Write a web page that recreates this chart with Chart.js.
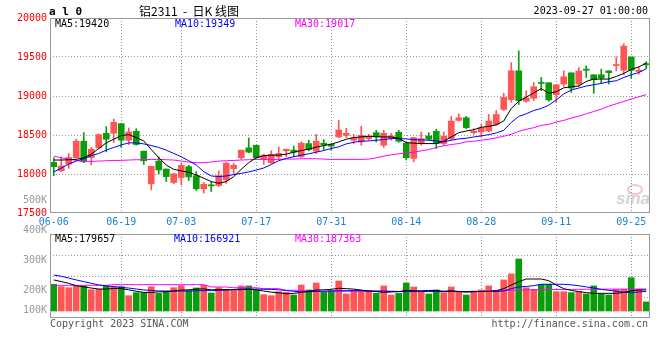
<!DOCTYPE html>
<html><head><meta charset="utf-8">
<script src="https://cdn.jsdelivr.net/npm/chart.js@4/dist/chart.umd.min.js"></script>
<style>
html,body{margin:0;padding:0;background:#fff;}
#wrap{position:relative;width:660px;height:360px;overflow:hidden;background:#fff;}
canvas{position:absolute;left:0;}
.t{position:absolute;white-space:pre;font-family:'DejaVu Sans Mono',monospace;font-size:10px;line-height:12px;}
</style></head><body>
<div id="wrap">
<div style="position:absolute;left:627px;top:184px;width:12px;height:7px;border:2px solid #f4c8c8;border-radius:50%;"></div>
<div class="t" style="left:616px;top:190px;font-family:'Liberation Sans',sans-serif;font-style:italic;font-weight:bold;font-size:17px;line-height:18px;color:#d4d4d4;">sina</div>
<canvas id="main" width="660" height="232" style="top:0"></canvas>
<canvas id="vol" width="660" height="100" style="top:228px"></canvas>
<div class="t" style="left:49px;top:6px;font-weight:bold;font-size:11px;color:#000;">a l 0</div>
<div class="t" style="left:139px;top:3px;font-family:'Noto Sans CJK SC',sans-serif;font-size:12px;line-height:15px;color:#000;">铝2311  -  日K 线图</div>
<div class="t" style="right:12px;top:5px;color:#000;">2023-09-27 01:00:00</div>
<div class="t" id="l1" style="left:55px;top:18px;color:#000;"></div>
<div class="t" id="l2" style="left:175px;top:18px;color:#0000ff;"></div>
<div class="t" id="l3" style="left:295px;top:18px;color:#ff00ff;"></div>
<div class="t" id="v1" style="left:55px;top:233px;color:#000;"></div>
<div class="t" id="v2" style="left:174px;top:233px;color:#0000ff;"></div>
<div class="t" id="v3" style="left:295px;top:233px;color:#ff00ff;"></div>
<div class="t" style="left:50px;top:318px;color:#555;">Copyright 2023 SINA.COM</div>
<div class="t" style="right:12px;top:318px;color:#555;">http://finance.sina.com.cn</div>
</div>
<script>
const dates = ['06-06','06-07','06-08','06-09','06-12','06-13','06-14','06-15','06-16','06-19','06-20','06-21','06-26','06-27','06-28','06-29','06-30',
'07-03','07-04','07-05','07-06','07-07','07-10','07-11','07-12','07-13','07-14','07-17','07-18','07-19','07-20','07-21','07-24','07-25','07-26','07-27','07-28','07-31',
'08-01','08-02','08-03','08-04','08-07','08-08','08-09','08-10','08-11','08-14','08-15','08-16','08-17','08-18','08-21','08-22','08-23','08-24','08-25','08-28','08-29','08-30','08-31',
'09-01','09-04','09-05','09-06','09-07','09-08','09-11','09-12','09-13','09-14','09-15','09-18','09-19','09-20','09-21','09-22','09-25','09-26','09-27'];
const axisLabels = ['06-06','06-19','07-03','07-17','07-31','08-14','08-28','09-11','09-25'];

const opens  = [18149,18043,18128,18208,18420,18212,18335,18522,18522,18645,
18433,18547,18293,17874,18166,18064,17891,17954,18094,17979,
17810,17861,17852,17924,18068,18208,18335,18369,18187,18145,
18221,18297,18306,18221,18390,18293,18395,18382,18475,18496,
18433,18412,18454,18530,18369,18454,18535,18395,18200,18390,
18488,18547,18390,18454,18687,18721,18530,18539,18551,18636,
18827,18954,19323,18933,18971,19174,19170,19017,19153,19297,
19153,19344,19272,19272,19323,19390,19331,19500,19314,19415];
const highs  = [18208,18221,18263,18446,18530,18340,18513,18607,18704,18650,
18590,18581,18293,18098,18221,18064,18009,18136,18115,18030,
17891,17895,18039,18150,18136,18306,18462,18369,18255,18297,
18348,18318,18357,18412,18433,18509,18441,18390,18687,18585,
18509,18611,18509,18560,18560,18522,18560,18407,18467,18539,
18530,18573,18539,18738,18772,18738,18581,18636,18763,18814,
19034,19428,19577,19068,19174,19238,19170,19144,19323,19297,
19365,19386,19272,19344,19323,19500,19670,19500,19373,19441];
const lows   = [17979,18030,18073,18200,18145,18115,18327,18284,18403,18340,
18378,18369,18123,17797,18001,17903,17874,17861,17916,17789,
17755,17776,17839,17880,18001,18187,18272,18200,18123,18136,
18187,18221,18221,18212,18297,18263,18314,18306,18467,18467,
18390,18369,18433,18412,18340,18433,18407,18179,18157,18369,
18433,18327,18369,18433,18679,18581,18509,18475,18539,18623,
18814,18920,18890,18920,18941,19068,18933,18920,19123,19047,
19119,19238,19034,19161,19153,19323,19272,19225,19280,19352];
const closes = [18094,18102,18212,18420,18157,18318,18505,18446,18662,18433,
18539,18378,18170,18098,18051,17967,18001,18111,17962,17810,
17869,17848,17979,18140,18111,18306,18280,18208,18242,18251,
18263,18318,18280,18395,18314,18420,18373,18357,18564,18522,
18462,18496,18484,18475,18522,18488,18420,18208,18467,18454,
18446,18390,18484,18679,18721,18594,18547,18594,18679,18763,
18984,19323,18941,18975,19119,19161,18950,19144,19246,19102,
19320,19330,19210,19230,19300,19399,19640,19330,19330,19400];

const ma5  = [18179,18179,18183,18187,18208,18255,18327,18399,18446,18492,
18505,18467,18424,18314,18208,18115,18060,18039,18022,17988,
17946,17903,17882,17903,17967,18060,18145,18208,18234,18242,
18242,18255,18280,18301,18318,18344,18365,18382,18412,18446,
18467,18475,18484,18479,18475,18475,18458,18403,18395,18390,
18390,18390,18420,18475,18530,18551,18568,18598,18611,18630,
18680,18840,18933,18985,19040,19095,19034,19055,19105,19119,
19128,19187,19217,19217,19217,19251,19289,19340,19373,19420];
const ma10 = [18026,18077,18128,18166,18196,18234,18263,18306,18340,18373,
18399,18399,18386,18365,18340,18306,18263,18221,18170,18115,
18030,17975,17967,17975,17992,18009,18026,18051,18077,18123,
18170,18200,18221,18242,18259,18280,18301,18327,18348,18386,
18407,18420,18424,18433,18441,18454,18454,18450,18441,18437,
18433,18424,18412,18433,18450,18458,18475,18488,18505,18526,
18560,18662,18738,18772,18814,18840,18882,18950,19026,19077,
19102,19128,19145,19161,19183,19195,19238,19272,19301,19349];
const ma30 = [18230,18208,18191,18174,18162,18162,18166,18170,18174,18174,
18179,18183,18183,18187,18187,18183,18179,18166,18153,18145,
18145,18153,18166,18170,18174,18179,18183,18187,18187,18187,
18187,18191,18191,18196,18196,18196,18191,18187,18187,18187,
18187,18187,18191,18208,18229,18246,18259,18268,18280,18297,
18314,18340,18361,18378,18390,18412,18420,18433,18446,18463,
18484,18509,18547,18573,18594,18623,18636,18666,18687,18717,
18742,18772,18801,18831,18870,18900,18930,18960,18990,19017];

const volumes = [227000,207000,198000,213000,213000,181000,184000,213000,204000,207000,
130000,156000,156000,207000,150000,159000,198000,215000,173000,196000,
218000,153000,198000,176000,173000,213000,213000,176000,139000,130000,
164000,159000,136000,221000,179000,238000,159000,172000,255000,145000,
176000,173000,173000,150000,213000,136000,150000,238000,204000,162000,
145000,179000,156000,204000,164000,136000,170000,179000,213000,176000,
264000,315000,442000,198000,184000,227000,227000,164000,164000,156000,
164000,145000,213000,145000,136000,184000,184000,283000,184000,77000];
const volMa5 = [264000,250000,235000,215000,205000,195000,187000,186000,192000,190000,
180000,168000,158000,157000,163000,164000,170000,178000,180000,186000,
188000,180000,182000,182000,180000,181000,185000,180000,170000,160000,
155000,146000,150000,158000,168000,178000,180000,184000,193000,190000,
186000,178000,170000,165000,158000,162000,165000,175000,172000,172000,
175000,174000,168000,172000,166000,160000,164000,166000,168000,172000,
190000,221000,249000,272000,272000,272000,258000,221000,190000,175000,
165000,156000,150000,150000,150000,150000,158000,172000,178000,179657];
const volMa10 = [306000,295000,280000,264000,250000,235000,222000,213000,207000,201000,
195000,187000,179000,175000,170000,170000,170000,170000,170000,172000,
173000,173000,175000,178000,183000,187000,187000,186000,185000,184000,
180000,174000,167000,164000,164000,166000,168000,170000,173000,173000,
173000,172000,170000,170000,170000,168000,166000,166000,166000,166000,
166000,166000,166000,166000,166000,166000,166000,166000,166000,166000,
170000,190000,205000,209000,215000,227000,227000,227000,227000,222000,
215000,205000,195000,184000,176000,168000,160000,155000,162000,166921];
const volMa30 = [218000,218000,218000,218000,218000,218000,218000,218000,224000,224000,
224000,224000,224000,224000,224000,224000,224000,224000,224000,224000,
224000,204000,204000,204000,198000,198000,198000,198000,190000,190000,
190000,176000,176000,176000,168000,168000,168000,168000,168000,168000,
168000,168000,168000,168000,165000,165000,165000,165000,165000,165000,
165000,165000,165000,165000,165000,165000,166000,168000,170000,172000,
175000,176000,178000,179000,180000,181000,182000,183000,183000,184000,
184000,185000,185000,185000,186000,186000,186000,187000,187000,187363];
const volGridValues = [119000, 297500, 476000];
const volAxisLabels = ['500K','400K','300K','200K','100K'];
const volAxisLabelTops = [194, 224, 254, 284, 304];

const RED = '#ff5555', GREEN = '#0a9c0a';
const candleColors = closes.map((c, i) => c >= opens[i] ? RED : GREEN);
const bodies = opens.map((o, i) => [o, closes[i]]);
const wicks = lows.map((l, i) => [l, highs[i]]);

const FONT = {family: "'DejaVu Sans Mono', monospace", size: 10};
const GRID = '#999999';
const gridX = ctx => (ctx.index > 0 && axisLabels.includes(dates[ctx.index])) ? GRID : 'rgba(0,0,0,0)';
const frame = {id: 'frame', afterDraw(c) {
  const {ctx, chartArea: a} = c;
  ctx.save(); ctx.strokeStyle = '#999'; ctx.lineWidth = 1;
  ctx.strokeRect(a.left + 0.5, a.top + 0.5, a.right - a.left - 1, a.bottom - a.top - 1);
  ctx.restore();
}};
const lineDs = (data, color) => ({type: 'line', data, borderColor: color, borderWidth: 1, pointRadius: 0, tension: 0, order: 0, fill: false});

new Chart(document.getElementById('main'), {
  type: 'bar',
  data: {labels: dates, datasets: [
    lineDs(ma5, '#000000'), lineDs(ma10, '#0000ff'), lineDs(ma30, '#ff00ff'),
    {data: bodies, backgroundColor: candleColors, barThickness: 6, grouped: false, minBarLength: 1, order: 1},
    {data: wicks, backgroundColor: candleColors, barThickness: 1, grouped: false, order: 2}
  ]},
  options: {
    responsive: false, animation: false, devicePixelRatio: 1, events: [],
    layout: {padding: {top: 18, right: 10, left: 0, bottom: 0}},
    plugins: {legend: {display: false}, tooltip: {enabled: false}},
    scales: {
      x: {offset: true,
        grid: {offset: false, drawTicks: false, color: gridX},
        border: {display: false, dash: [1, 2]},
        ticks: {autoSkip: false, maxRotation: 0, minRotation: 0, padding: 3, color: '#1a80e0', font: FONT,
          callback: (v, i) => axisLabels.includes(dates[i]) ? dates[i] : ''},
        afterFit: s => { s.height = 19; }},
      y: {min: 17500, max: 20000,
        ticks: {stepSize: 500, padding: 3, color: '#ff0000', font: FONT, callback: v => String(v)},
        grid: {drawTicks: false, color: ctx => (ctx.tick && ctx.tick.value > 17500 && ctx.tick.value < 20000) ? GRID : 'rgba(0,0,0,0)'},
        border: {display: false, dash: [1, 2]},
        afterFit: s => { s.width = 50; }}
    }
  },
  plugins: [frame]
});

new Chart(document.getElementById('vol'), {
  type: 'bar',
  data: {labels: dates, datasets: [
    lineDs(volMa5, '#000000'), lineDs(volMa10, '#0000ff'), lineDs(volMa30, '#ff00ff'),
    {data: volumes, backgroundColor: candleColors, barThickness: 6, order: 1}
  ]},
  options: {
    responsive: false, animation: false, devicePixelRatio: 1, events: [],
    layout: {padding: {top: 6, right: 10, left: 0, bottom: 10}},
    plugins: {legend: {display: false}, tooltip: {enabled: false}},
    scales: {
      x: {offset: true,
        grid: {offset: false, drawTicks: false, color: gridX},
        border: {display: false, dash: [1, 2]},
        ticks: {display: false},
        afterFit: s => { s.height = 0; }},
      y: {min: -59500, max: 654500,
        afterBuildTicks: s => { s.ticks = volGridValues.map(v => ({value: v})); },
        ticks: {display: false},
        grid: {drawTicks: false, color: GRID},
        border: {display: false, dash: [1, 2]},
        afterFit: s => { s.width = 50; }}
    }
  },
  plugins: [frame]
});

const last = a => a[a.length - 1];
document.getElementById('l1').textContent = 'MA5:' + last(ma5);
document.getElementById('l2').textContent = 'MA10:' + last(ma10);
document.getElementById('l3').textContent = 'MA30:' + last(ma30);
document.getElementById('v1').textContent = 'MA5:' + last(volMa5);
document.getElementById('v2').textContent = 'MA10:' + last(volMa10);
document.getElementById('v3').textContent = 'MA30:' + last(volMa30);
const wrap = document.getElementById('wrap');
volAxisLabels.forEach((txt, i) => {
  const d = document.createElement('div');
  d.className = 't';
  d.style.cssText = 'left:0;width:47px;text-align:right;color:#999;top:' + volAxisLabelTops[i] + 'px;';
  d.textContent = txt;
  wrap.appendChild(d);
});
</script>
</body></html>
